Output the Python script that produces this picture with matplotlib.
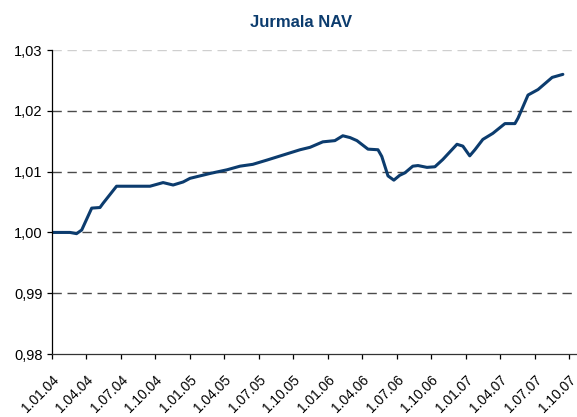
import matplotlib
matplotlib.use("Agg")
import matplotlib.pyplot as plt
from matplotlib.ticker import FuncFormatter

# x positions in quarters since 1.01.04
quarter_pos = [0.00, 0.53, 0.72, 0.87, 1.16, 1.40, 1.49, 1.88, 2.85, 3.23,
               3.52, 3.81, 4.01, 4.59, 5.08, 5.46, 5.83, 6.24, 7.20, 7.49,
               7.86, 8.21, 8.44, 8.65, 8.85, 9.17, 9.46, 9.57, 9.75, 9.92,
               10.09, 10.24, 10.47, 10.62, 10.88, 11.11, 11.34, 11.75, 11.92, 12.12,
               12.27, 12.50, 12.79, 13.14, 13.43, 13.52, 13.81, 14.10, 14.51, 14.82]
nav = [1.0000, 1.0000, 0.9998, 1.0004, 1.0040, 1.0041, 1.0048, 1.0076, 1.0076, 1.0082,
       1.0078, 1.0083, 1.0089, 1.0097, 1.0103, 1.0109, 1.0112, 1.0119, 1.0136, 1.0140,
       1.0149, 1.0151, 1.0159, 1.0156, 1.0151, 1.0137, 1.0136, 1.0125, 1.0093, 1.0086,
       1.0094, 1.0098, 1.0109, 1.0110, 1.0107, 1.0108, 1.0120, 1.0145, 1.0142, 1.0126,
       1.0136, 1.0153, 1.0163, 1.0179, 1.0179, 1.0188, 1.0226, 1.0235, 1.0255, 1.0260]

tick_labels = ["1.01.04", "1.04.04", "1.07.04", "1.10.04",
               "1.01.05", "1.04.05", "1.07.05", "1.10.05",
               "1.01.06", "1.04.06", "1.07.06", "1.10.06",
               "1.01.07", "1.04.07", "1.07.07", "1.10.07"]
y_ticks = [0.98, 0.99, 1.00, 1.01, 1.02, 1.03]

plt.rcParams["font.family"] = ["Liberation Sans", "DejaVu Sans"]

fig = plt.figure(figsize=(5.77, 4.17), dpi=100)
ax = fig.add_axes([0.0896, 0.151, 0.9104, 0.729])

ax.plot(quarter_pos, nav, color="#0c3c6e", linewidth=2.2,
        solid_joinstyle="round", solid_capstyle="round")

ax.set_xlim(0, 15.23)
ax.set_ylim(0.98, 1.03)
ax.set_yticks(y_ticks)
ax.yaxis.set_major_formatter(FuncFormatter(lambda v, p: f"{v:.2f}".replace(".", ",")))
ax.set_xticks(range(len(tick_labels)))
ax.set_xticklabels(tick_labels, rotation=45, ha="right", rotation_mode="anchor")

# dashed grid, not on the bottom axis line; top one is paler
for v in y_ticks[1:]:
    col = "#cfcfcf" if v == y_ticks[-1] else "#4a4a4a"
    ax.axhline(v, color=col, linestyle=(0, (6.7, 4.1)), linewidth=1.0, zorder=0)

for s in ["top", "right"]:
    ax.spines[s].set_visible(False)
ax.spines["left"].set_linewidth(0.9)
ax.spines["bottom"].set_linewidth(0.9)
ax.spines["bottom"].set_color("#333333")
ax.tick_params(axis="both", direction="out", length=3.5, width=0.9,
               colors="black")
ax.tick_params(axis="x", pad=10, labelsize=10)
ax.tick_params(axis="y", pad=3, labelsize=10.5)

fig.text(0.522, 0.945, "Jurmala NAV", ha="center", va="center",
         fontsize=12, fontweight="bold", color="#0c3c6e")

fig.savefig("out.png", dpi=100)
